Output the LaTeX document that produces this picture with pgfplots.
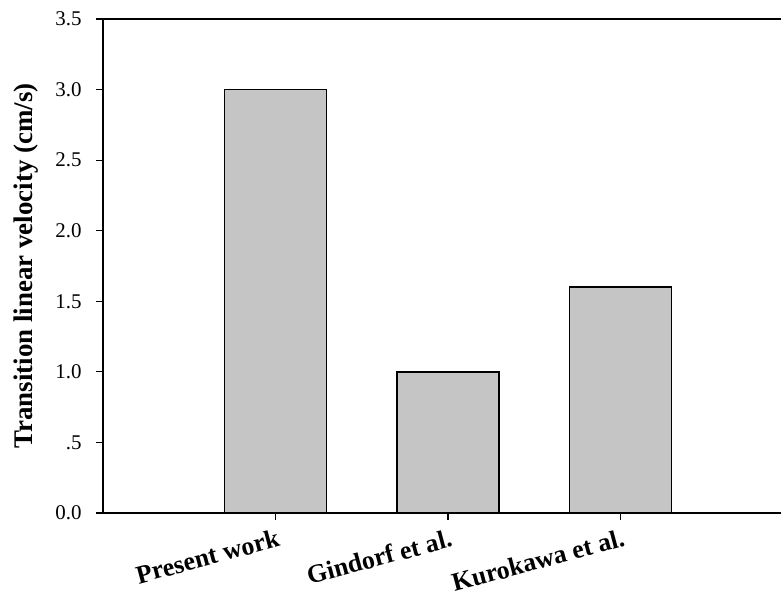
\documentclass[border=0pt]{standalone}
\usepackage{pgfplots}
\pgfplotsset{compat=1.18}
\usepackage{fontspec}
\setmainfont{Liberation Serif}
\definecolor{barfill}{RGB}{197,197,197}

\begin{document}
\begin{tikzpicture}
	\begin{axis}[
		scale only axis,
		width=690bp,
		height=494bp,
		xmin=0, xmax=4,
		ymin=0, ymax=3.5,
		axis x line=box,
		axis y line*=left,
		axis line style={line width=1.6bp},
		xtick={1,2,3},
		xticklabels={Present work, Gindorf et al., Kurokawa et al.},
		xtick pos=bottom,
		ytick={0,0.5,1,1.5,2,2.5,3,3.5},
		yticklabels={0.0,.5,1.0,1.5,2.0,2.5,3.0,3.5},
		ytick pos=left,
		tick align=outside,
		major tick length=7bp,
		tick style={line width=1.2bp, black},
		/pgf/number format/assume math mode=true,
		yticklabel style={font=\fontsize{21}{24}\selectfont, xshift=-11bp},
		xticklabel style={font=\fontsize{26}{30}\selectfont\bfseries, rotate=15, anchor=north east, xshift=2bp, yshift=-5bp},
		ylabel={Transition linear velocity (cm/s)},
		ylabel style={font=\fontsize{27}{30}\selectfont\bfseries, at={(axis description cs:-0.112,0.5)}, anchor=center},
	]
	\addplot[ybar, bar width=0.59, fill=barfill, draw=black, line width=1.4bp]
		coordinates {
			(1, 3.0)
			(2, 1.0)
			(3, 1.6)
		};
	\end{axis}
	\pgfresetboundingbox
	\path ([shift={(-103bp,-86bp)}]current axis.south west) rectangle ([shift={(-12bp,19bp)}]current axis.north east);
\end{tikzpicture}
\end{document}
